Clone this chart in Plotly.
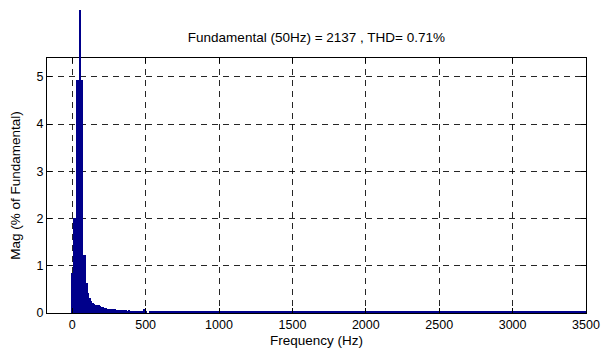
import plotly.graph_objects as go

# Spectrum near the fundamental (10 Hz resolution), % of fundamental
freq_low = [0, 10, 20, 30, 40, 60, 70, 80, 90,
            100, 110, 120, 130, 140, 150, 160, 170, 180, 190,
            200, 210, 220, 230, 240, 250, 260, 270, 280, 290,
            300, 310, 320, 330, 340, 350, 360, 370, 380, 390,
            400, 410, 420, 430, 440, 450, 460, 470, 480, 490, 500]
mag_low = [0.85, 2.02, 2.02, 4.94, 4.94, 4.94, 4.94, 1.23, 1.23,
           0.64, 0.42, 0.32, 0.25, 0.22, 0.20, 0.18, 0.17, 0.16, 0.14,
           0.13, 0.12, 0.11, 0.10, 0.09, 0.09, 0.085, 0.085, 0.08, 0.08,
           0.07, 0.065, 0.065, 0.06, 0.065, 0.06, 0.055, 0.06, 0.05, 0.055,
           0.05, 0.045, 0.05, 0.045, 0.04, 0.045, 0.04, 0.035, 0.04, 0.09, 0.035]

# Fundamental component (100 % of itself)
freq_fund = [50]
mag_fund = [100.0]

# High-frequency tail (coarser, 50 Hz bins)
freq_tail = [550, 600, 650, 700, 750, 800, 850, 900, 950, 1000,
             1050, 1100, 1150, 1200, 1250, 1300, 1350, 1400, 1450, 1500,
             1550, 1600, 1650, 1700, 1750, 1800, 1850, 1900, 1950, 2000,
             2050, 2100, 2150, 2200, 2250, 2300, 2350, 2400, 2450, 2500,
             2550, 2600, 2650, 2700, 2750, 2800, 2850, 2900, 2950, 3000,
             3050, 3100, 3150, 3200, 3250, 3300, 3350, 3400, 3450, 3500]
mag_tail = [0.03, 0.03, 0.025, 0.03, 0.025, 0.025, 0.03, 0.025, 0.025, 0.03,
            0.025, 0.025, 0.025, 0.03, 0.025, 0.025, 0.025, 0.025, 0.03, 0.025,
            0.025, 0.025, 0.03, 0.025, 0.025, 0.025, 0.025, 0.025, 0.025, 0.03,
            0.025, 0.025, 0.025, 0.025, 0.025, 0.03, 0.025, 0.025, 0.025, 0.025,
            0.025, 0.025, 0.03, 0.025, 0.025, 0.025, 0.025, 0.025, 0.025, 0.025,
            0.025, 0.03, 0.025, 0.025, 0.025, 0.025, 0.025, 0.025, 0.025, 0.025]

x_ticks = [0, 500, 1000, 1500, 2000, 2500, 3000, 3500]
y_ticks = [0, 1, 2, 3, 4, 5]
title_text = "Fundamental (50Hz) = 2137 , THD= 0.71%"

BAR = "#00008B"
FONT = "Liberation Sans, Arial, Helvetica, sans-serif"
FS = 12.5
FT = 13.5

Y_MAX = 5.4
MAIN_TOP = 255 / 303  # main axes occupy lower part; spike may rise above

fig = go.Figure()
fig.add_trace(go.Bar(x=freq_low, y=mag_low, width=8, marker=dict(color=BAR, line=dict(width=0)),
                     showlegend=False, xaxis="x", yaxis="y"))
fig.add_trace(go.Bar(x=freq_tail, y=mag_tail, width=50, marker=dict(color=BAR, line=dict(width=0)),
                     showlegend=False, xaxis="x", yaxis="y"))
# fundamental drawn on an invisible taller axis so it pokes above the box
fig.add_trace(go.Bar(x=freq_fund, y=mag_fund, width=14, marker=dict(color=BAR, line=dict(width=0)),
                     showlegend=False, xaxis="x2", yaxis="y2"))

axis_common = dict(
    showline=True, linecolor="black", linewidth=1, mirror="ticks",
    ticks="inside", ticklen=5, tickcolor="black", tickwidth=1,
    showgrid=True, gridcolor="rgba(0,0,0,0.85)", gridwidth=1, griddash="6px,5px",
    zeroline=False, tickfont=dict(family=FONT, size=FS, color="black"),
    automargin=False,
)

fig.update_layout(
    width=605, height=352,
    margin=dict(l=47, r=19, t=10, b=39),
    paper_bgcolor="white", plot_bgcolor="rgba(0,0,0,0)",
    bargap=0, barmode="overlay",
    font=dict(family=FONT, size=FS, color="black"),
    title=dict(text=title_text, x=0.523, xanchor="center", y=1 - 37 / 352, yanchor="middle",
               font=dict(family=FONT, size=FT, color="black")),
    xaxis=dict(range=[-172, 3500], tickvals=x_ticks, ticktext=[str(v) for v in x_ticks],
               anchor="y",
               title=dict(text="Frequency (Hz)", standoff=4, font=dict(family=FONT, size=FT)),
               **axis_common),
    yaxis=dict(range=[0, Y_MAX], domain=[0, MAIN_TOP], tickvals=y_ticks,
               ticktext=[str(v) for v in y_ticks], anchor="x",
               title=dict(text="Mag (% of Fundamental)", standoff=12, font=dict(family=FONT, size=FT)),
               **axis_common),
    xaxis2=dict(range=[-172, 3500], matches="x", anchor="y2", visible=False, showgrid=False),
    yaxis2=dict(range=[0, Y_MAX / MAIN_TOP], domain=[0, 1], anchor="x2", visible=False,
                showgrid=False),
)

fig.write_html("out.html")
